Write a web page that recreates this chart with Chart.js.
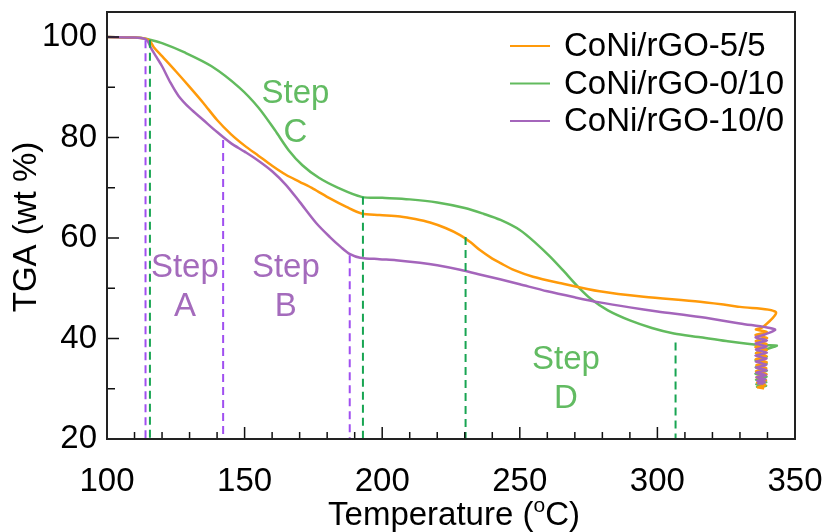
<!DOCTYPE html>
<html>
<head>
<meta charset="utf-8">
<script src="https://cdn.jsdelivr.net/npm/chart.js@4.4.0/dist/chart.umd.min.js"></script>
<style>
    html, body { margin: 0; padding: 0; background: #fff; }
</style>
</head>
<body>
<canvas id="tga" width="827" height="532"></canvas>
<script>
// Dados (temperatura em °C, massa em wt %)
const seriesNames = ['CoNi/rGO-5/5', 'CoNi/rGO-0/10', 'CoNi/rGO-10/0'];

const t55 = [100, 110, 114, 115.5, 117, 120, 125, 130, 135, 140, 145, 150, 155, 160, 165, 170, 175, 181, 187, 192.5, 199, 206.5, 212, 217.4, 223, 228.3, 232, 235.5, 240, 243, 248, 254.8, 265, 279, 295, 315.5, 330, 343,
             338.4, 335.8, 339.8, 335.6, 339.9, 335.7, 339.7, 335.6, 339.8, 335.8, 339.6, 335.7, 339.8, 335.9, 339.6, 335.8, 339.7, 336, 339.5, 336.2, 339.2, 336.5, 338.8];
const w55 = [100, 99.9, 99.7, 99.3, 98, 96.2, 93.2, 90.1, 86.9, 83.5, 80.7, 78.4, 76.4, 74.4, 72.6, 71.2, 69.8, 67.9, 66.2, 64.9, 64.6, 64.3, 63.8, 63.1, 62, 60.6, 59.2, 57.6, 55.9, 55, 53.6, 52.3, 51, 49.4, 48.3, 47.3, 46.3, 45.3,
             42.3, 41.8, 41.3, 40.7, 40.1, 39.5, 38.9, 38.3, 37.7, 37.1, 36.5, 35.9, 35.3, 34.7, 34.1, 33.5, 32.9, 32.3, 31.7, 31.2, 30.7, 30.3, 30.1];

const t010 = [100, 110, 114, 115.5, 120, 128, 138, 148, 155, 161, 166, 171, 177, 184, 192.5, 200, 210, 220, 230, 237, 243, 250, 256, 261, 266, 271, 276, 282, 290, 298, 306, 315, 325, 337, 343.4,
              339.2, 335.8, 339.8, 335.6, 339.7, 335.7, 339.8, 335.6, 339.7, 335.8, 339.6, 335.9, 339.5, 336.2, 339.2];
const w010 = [100, 99.9, 99.7, 99.5, 98.8, 97, 94.2, 90, 86, 81.5, 77.5, 74.5, 72, 70, 68.2, 68.0, 67.7, 67.1, 66, 64.8, 63.6, 61.6, 58.9, 56.3, 53.4, 50.4, 47.8, 45.6, 43.6, 42.1, 41.0, 40.3, 39.5, 38.7, 38.6,
              37.8, 37.1, 36.4, 35.7, 35, 34.3, 33.6, 33, 32.4, 31.8, 31.3, 30.9, 30.6, 30.4, 30.5];

const t100 = [100, 110, 114, 115, 116, 118, 120, 123, 126, 130, 135, 140, 145, 150, 155, 160, 165, 170, 176, 181, 185, 188.3, 192, 199, 205, 213.7, 220, 228.3, 235, 242.8, 250, 260, 270, 279, 290, 300, 315.5, 330, 342.7,
              339, 335.7, 339.8, 335.6, 339.7, 335.8, 339.8, 335.6, 339.7, 335.7, 339.6, 335.8, 339.7, 335.9, 339.5, 336, 339.3, 336.3, 339, 336.6, 338.6];
const w100 = [100, 99.9, 99.6, 99, 97.8, 96, 94.2, 91, 88.3, 85.9, 83.5, 81.1, 78.9, 77.2, 75.4, 73.3, 70.6, 67.2, 63, 60.2, 58.2, 56.8, 56.1, 55.8, 55.6, 55.1, 54.6, 53.7, 52.8, 51.8, 50.8, 49.4, 48.2, 47.2, 46.2, 45.4, 44.3, 43, 41.8,
              40.8, 40.2, 39.6, 39, 38.4, 37.8, 37.2, 36.6, 36, 35.4, 34.8, 34.2, 33.7, 33.2, 32.7, 32.3, 31.9, 31.6, 31.3, 31.1, 31];

// Linhas tracejadas das etapas (temperatura e topo)
const dashPurpleT = [114, 142.2, 188.2];
const dashPurpleTop = [99.4, 79.5, 56.6];
const dashGreenT = [115.6, 193, 230.3, 306.6];
const dashGreenTop = [99.5, 68.2, 60.2, 39.2];

const xTicks = [100, 150, 200, 250, 300, 350];
const yTicks = [20, 40, 60, 80, 100];

const stepLabels = [
    { lines: ['Step', 'A'], t: 128.3, w: 52.2, color: '#a46bbc' },
    { lines: ['Step', 'B'], t: 165, w: 52.2, color: '#a46bbc' },
    { lines: ['Step', 'C'], t: 168.5, w: 86.8, color: '#62bb62' },
    { lines: ['Step', 'D'], t: 266.8, w: 34, color: '#62bb62' }
];

const colors = ['#ff9a0a', '#62bb5e', '#a465bb'];
const FONT = "'Liberation Sans', Arial, Helvetica, sans-serif";

const toPoints = (ts, ws) => ts.map((t, i) => ({ x: t, y: ws[i] }));

const curveData = [[t55, w55], [t010, w010], [t100, w100]];
const datasets = curveData.map(([ts, ws], i) => ({
    label: seriesNames[i],
    data: toPoints(ts, ws),
    borderColor: colors[i],
    borderWidth: 2.5,
    pointRadius: 0,
    tension: 0.3,
    order: i === 2 ? 1 : 2
}));

function dashSets(ts, tops, color) {
    return ts.map((t, i) => ({
        label: '',
        data: [{ x: t, y: tops[i] }, { x: t, y: 20 }],
        borderColor: color,
        borderWidth: 2,
        borderDash: [8, 5],
        pointRadius: 0,
        order: 0
    }));
}
datasets.push(...dashSets(dashPurpleT, dashPurpleTop, '#a04ff0'));
datasets.push(...dashSets(dashGreenT, dashGreenTop, '#18a552'));

// Plugin para moldura, ticks internos, legenda, rótulos e títulos
const tgaDecor = {
    id: 'tgaDecor',
    afterDatasetsDraw(chart) {
        const { ctx, chartArea: a, scales: { x, y } } = chart;
        ctx.save();

        // ticks para dentro
        ctx.strokeStyle = '#111';
        ctx.lineWidth = 1.5;
        ctx.beginPath();
        for (let v = 100; v <= 350; v += 10) {
            const px = x.getPixelForValue(v);
            const len = v % 50 === 0 ? 12 : 7;
            ctx.moveTo(px, a.bottom);
            ctx.lineTo(px, a.bottom - len);
        }
        for (let v = 20; v <= 100; v += 10) {
            const py = y.getPixelForValue(v);
            const len = v % 20 === 0 ? 12 : 8;
            ctx.moveTo(a.left, py);
            ctx.lineTo(a.left + len, py);
        }
        ctx.stroke();

        // moldura
        ctx.lineWidth = 2;
        ctx.strokeStyle = '#222';
        ctx.strokeRect(a.left, a.top, a.right - a.left, a.bottom - a.top);

        // rótulos das etapas
        ctx.font = '33px ' + FONT;
        ctx.textAlign = 'center';
        ctx.textBaseline = 'alphabetic';
        stepLabels.forEach(s => {
            ctx.fillStyle = s.color;
            const px = x.getPixelForValue(s.t);
            const py = y.getPixelForValue(s.w);
            s.lines.forEach((txt, i) => ctx.fillText(txt, px, py + i * 39));
        });

        // legenda
        ctx.font = '33px ' + FONT;
        ctx.textAlign = 'left';
        ctx.textBaseline = 'middle';
        seriesNames.forEach((name, i) => {
            const ly = 46 + i * 37.5;
            ctx.strokeStyle = colors[i];
            ctx.lineWidth = 2;
            ctx.beginPath();
            ctx.moveTo(510, ly);
            ctx.lineTo(550, ly);
            ctx.stroke();
            ctx.fillStyle = '#000';
            ctx.fillText(name, 564, ly + 1);
        });

        // título do eixo x com sobrescrito
        ctx.fillStyle = '#000';
        ctx.textBaseline = 'alphabetic';
        const base = 525;
        const p1 = 'Temperature (', sup = 'o', p2 = 'C)';
        ctx.font = '33px ' + FONT;
        const w1 = ctx.measureText(p1).width, w3 = ctx.measureText(p2).width;
        ctx.font = '21px ' + FONT;
        const w2 = ctx.measureText(sup).width;
        let sx = 454 - (w1 + w2 + w3) / 2;
        ctx.font = '33px ' + FONT;
        ctx.fillText(p1, sx, base);
        ctx.font = '21px ' + FONT;
        ctx.fillText(sup, sx + w1, base - 13);
        ctx.font = '33px ' + FONT;
        ctx.fillText(p2, sx + w1 + w2, base);

        // título do eixo y
        ctx.translate(27, 227);
        ctx.rotate(-Math.PI / 2);
        ctx.textAlign = 'center';
        ctx.textBaseline = 'middle';
        ctx.fillText('TGA (wt %)', 0, 0);

        ctx.restore();
    }
};

new Chart(document.getElementById('tga'), {
    type: 'line',
    data: { datasets },
    options: {
        responsive: false,
        animation: false,
        devicePixelRatio: 1,
        layout: { padding: { top: 12, right: 32, left: 0, bottom: 0 } },
        plugins: { legend: { display: false }, tooltip: { enabled: false } },
        scales: {
            x: {
                type: 'linear',
                min: 100,
                max: 350,
                afterBuildTicks: s => { s.ticks = xTicks.map(v => ({ value: v })); },
                afterFit: s => { s.height = 93; s.paddingLeft = 0; s.paddingRight = 0; },
                grid: { display: false, drawTicks: false },
                border: { display: false },
                ticks: { color: '#000', padding: 23, maxRotation: 0, font: { size: 33, family: FONT } }
            },
            y: {
                type: 'linear',
                min: 20,
                max: 105,
                afterBuildTicks: s => { s.ticks = yTicks.map(v => ({ value: v })); },
                afterFit: s => { s.width = 107; s.paddingTop = 0; s.paddingBottom = 0; },
                grid: { display: false, drawTicks: false },
                border: { display: false },
                ticks: { color: '#000', padding: 10, font: { size: 33, family: FONT } }
            }
        }
    },
    plugins: [tgaDecor]
});
</script>
</body>
</html>
